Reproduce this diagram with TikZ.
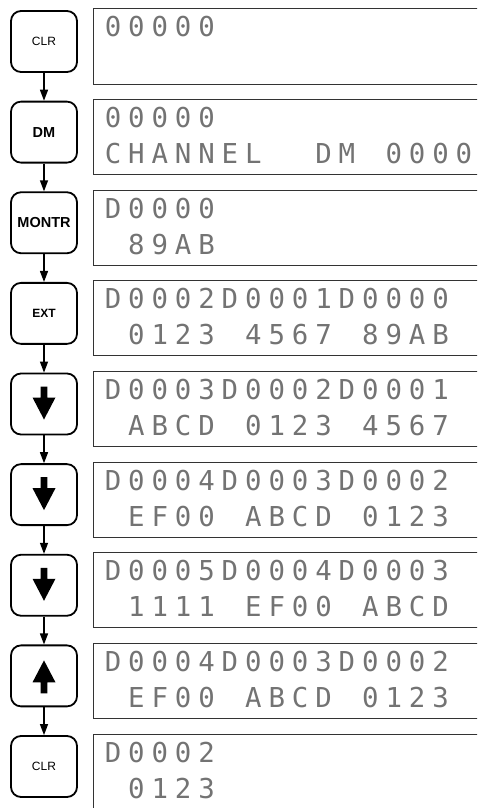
\documentclass[tikz,border=0pt]{standalone}
\usepackage{fontspec}
\newfontfamily\keyfont{Liberation Sans}
\newfontfamily\lcdfont{DejaVu Sans Mono}
\usetikzlibrary{arrows.meta}
\newlength\lcdw
\setlength\lcdw{23.4pt}
\def\lcdloop#1{\ifx#1\relax\else\makebox[\lcdw][c]{#1}\expandafter\lcdloop\fi}
\def\lcd#1{\lcdloop#1\relax}
\begin{document}
\begin{tikzpicture}[x=1pt,y=-1pt,
  lcdbox/.style={draw=black!80, line width=1pt, minimum width=390pt, minimum height=75pt, inner sep=0pt},
  keybox/.style={draw, line width=1.8pt, rounded corners=10pt, minimum width=66pt, minimum height=61pt, inner sep=0pt, font=\keyfont\fontsize{12}{12}\selectfont},
  keybold/.style={keybox, font=\keyfont\bfseries\fontsize{14.5}{14.5}\selectfont},
  keysmall/.style={keybox, font=\keyfont\bfseries\fontsize{12}{12}\selectfont},
  lcdtext/.style={anchor=base west, inner sep=0pt, text=black!55, font=\lcdfont\fontsize{27.4}{27.4}\selectfont},
  conn/.style={line width=1.3pt, -{Triangle[length=11pt,width=8pt]}},
  glyph/.style={fill=black}]
\useasboundingbox (0,0) rectangle (477,808);
\clip (0,0) rectangle (477,808);
% display boxes
\node[lcdbox] (d0) at (288,46.5) {};
\node[lcdbox] (d1) at (288,137.125) {};
\node[lcdbox] (d2) at (288,227.75) {};
\node[lcdbox] (d3) at (288,318.375) {};
\node[lcdbox] (d4) at (288,409) {};
\node[lcdbox] (d5) at (288,499.625) {};
\node[lcdbox] (d6) at (288,590.25) {};
\node[lcdbox] (d7) at (288,680.875) {};
\node[lcdbox] (d8) at (288,771.5) {};
% keys
\node[keybox]  (k0) at (44,41.5) {CLR};
\node[keybold] (k1) at (44,132.125) {DM};
\node[keybold] (k2) at (44,222.75) {MONTR};
\node[keysmall] (k3) at (44,313.375) {EXT};
\node[keybox]  (k4) at (44,404) {};
\node[keybox]  (k5) at (44,494.625) {};
\node[keybox]  (k6) at (44,585.25) {};
\node[keybox]  (k7) at (44,675.875) {};
\node[keybox]  (k8) at (44,766.5) {CLR};
% arrow glyphs in keys
\foreach \k in {k4,k5,k6}{
  \fill[glyph,shift={(\k.center)}] (-3.4,-17.5) -- (3.4,-17.5) -- (3.4,-6.5) -- (11.5,-6.5) -- (0,15.5) -- (-11.5,-6.5) -- (-3.4,-6.5) -- cycle;
}
\fill[glyph,shift={(k7.center)}] (-3.4,17.5) -- (3.4,17.5) -- (3.4,6.5) -- (11.5,6.5) -- (0,-15.5) -- (-11.5,6.5) -- (-3.4,6.5) -- cycle;
% connectors
\draw[conn] (k0) -- (k1);
\draw[conn] (k1) -- (k2);
\draw[conn] (k2) -- (k3);
\draw[conn] (k3) -- (k4);
\draw[conn] (k4) -- (k5);
\draw[conn] (k5) -- (k6);
\draw[conn] (k6) -- (k7);
\draw[conn] (k7) -- (k8);
% display texts
\node[lcdtext] (a0) at (101.1,37) {\lcd{00000}};
\node[lcdtext] (a1) at (101.1,127.625) {\lcd{00000}};
\node[lcdtext] (b1) at (101.1,163.625) {\lcd{CHANNEL~~DM~0000}};
\node[lcdtext] (a2) at (101.1,218.25) {\lcd{D0000}};
\node[lcdtext] (b2) at (101.1,254.25) {\lcd{~89AB}};
\node[lcdtext] (a3) at (101.1,308.875) {\lcd{D0002D0001D0000}};
\node[lcdtext] (b3) at (101.1,344.875) {\lcd{~0123~4567~89AB}};
\node[lcdtext] (a4) at (101.1,399.5) {\lcd{D0003D0002D0001}};
\node[lcdtext] (b4) at (101.1,435.5) {\lcd{~ABCD~0123~4567}};
\node[lcdtext] (a5) at (101.1,490.125) {\lcd{D0004D0003D0002}};
\node[lcdtext] (b5) at (101.1,526.125) {\lcd{~EF00~ABCD~0123}};
\node[lcdtext] (a6) at (101.1,580.75) {\lcd{D0005D0004D0003}};
\node[lcdtext] (b6) at (101.1,616.75) {\lcd{~1111~EF00~ABCD}};
\node[lcdtext] (a7) at (101.1,671.375) {\lcd{D0004D0003D0002}};
\node[lcdtext] (b7) at (101.1,707.375) {\lcd{~EF00~ABCD~0123}};
\node[lcdtext] (a8) at (101.1,762) {\lcd{D0002}};
\node[lcdtext] (b8) at (101.1,798) {\lcd{~0123}};
\end{tikzpicture}
\end{document}
